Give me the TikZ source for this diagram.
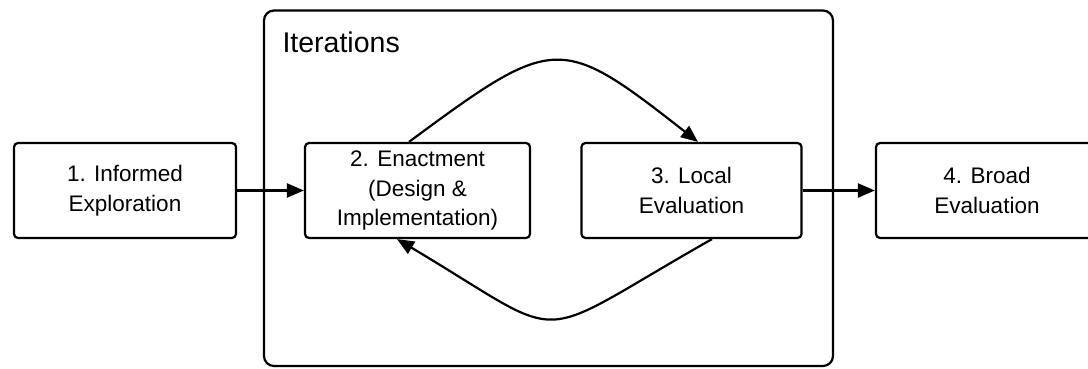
\documentclass[tikz,border=0pt]{standalone}
\usepackage{fontspec}
\setmainfont{Liberation Sans}
\usetikzlibrary{arrows.meta}

\begin{document}
\begin{tikzpicture}[x=1pt,y=-1pt,
    stage/.style={draw,rounded corners=4pt,line width=2.2pt,minimum width=222pt,minimum height=95pt,align=center,inner sep=0pt,font=\fontsize{22.5}{29.5}\selectfont},
    flow/.style={line width=2.2pt,-{Triangle[length=17pt,width=14pt]}}]
    \useasboundingbox (0,0) rectangle (1088,369);

    % the iteration frame
    \node[draw,rounded corners=10pt,line width=2.2pt,minimum width=569pt,minimum height=355.5pt] (iters) at (548.5,188.25) {};
    \node[anchor=base west,font=\fontsize{28.5}{34}\selectfont] (iterlabel) at (279,53) {Iterations};

    \node[stage] (info) at (125,190.5) {1. Informed\\Exploration};
    \node[stage,minimum width=225pt] (enact) at (417.5,190.5) {2. Enactment\\(Design \&\\Implementation)};
    \node[stage,minimum width=220pt] (local) at (691.5,190.5) {3. Local\\Evaluation};
    \node[stage] (broad) at (987,190.5) {4. Broad\\Evaluation};

    \draw[flow] (info.east) -- (enact.west);
    \draw[flow] (local.east) -- (broad.west);
    \draw[flow] ([xshift=-8.5pt]enact.north) .. controls (555,34) and (560,34) .. ([xshift=6.5pt]local.north);
    \draw[flow] ([xshift=20.5pt]local.south) .. controls (525,345) and (575,345) .. ([xshift=-20.5pt]enact.south);
\end{tikzpicture}
\end{document}
